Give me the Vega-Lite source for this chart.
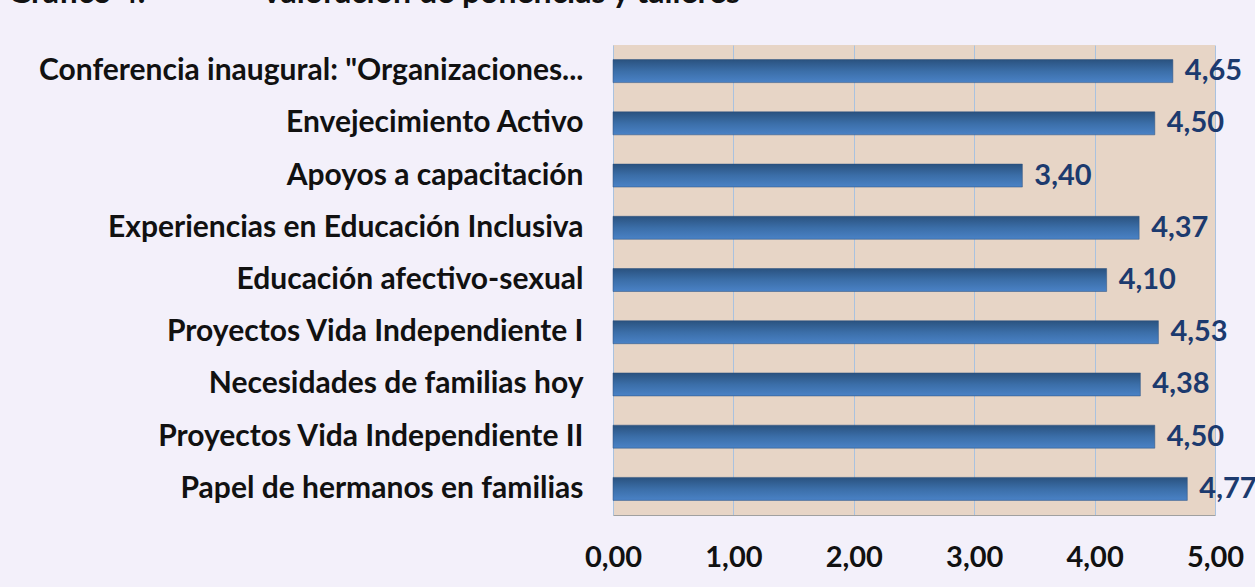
{
  "$schema": "https://vega.github.io/schema/vega-lite/v6.json",
  "width": 602,
  "height": 470,
  "autosize": {"type": "none"},
  "padding": {"left": 613, "top": 45, "right": 40, "bottom": 72},
  "background": "#f3f0fa",
  "config": {
    "locale": {"number": {"decimal": ",", "thousands": ".", "grouping": [3], "currency": ["", " €"]}},
    "view": {"fill": "#e7d5c6", "stroke": null},
    "font": "Lato"
  },
  "title": {
    "text": "Gráfico 4.\u00a0\u00a0\u00a0\u00a0\u00a0\u00a0\u00a0\u00a0\u00a0\u00a0\u00a0\u00a0\u00a0\u00a0\u00a0Valoración de ponencias y talleres",
    "anchor": "start",
    "frame": "group",
    "font": "Lato",
    "fontSize": 32,
    "fontWeight": "bold",
    "color": "#111111",
    "dx": -605,
    "dy": 20,
    "offset": 30,
    "baseline": "alphabetic"
  },
  "data": {
    "values": [
      {"tema": "Conferencia inaugural: \"Organizaciones...", "valor": 4.65, "orden": 1},
      {"tema": "Envejecimiento Activo", "valor": 4.50, "orden": 2},
      {"tema": "Apoyos a capacitación", "valor": 3.40, "orden": 3},
      {"tema": "Experiencias en Educación Inclusiva", "valor": 4.37, "orden": 4},
      {"tema": "Educación afectivo-sexual", "valor": 4.10, "orden": 5},
      {"tema": "Proyectos Vida Independiente I", "valor": 4.53, "orden": 6},
      {"tema": "Necesidades de familias hoy", "valor": 4.38, "orden": 7},
      {"tema": "Proyectos Vida Independiente II", "valor": 4.50, "orden": 8},
      {"tema": "Papel de hermanos en familias", "valor": 4.77, "orden": 9}
    ]
  },
  "encoding": {
    "y": {
      "field": "tema",
      "type": "nominal",
      "sort": {"field": "orden", "order": "ascending"},
      "scale": {"paddingInner": 0.56, "paddingOuter": 0.28},
      "axis": {
        "title": null,
        "domain": false,
        "ticks": false,
        "labelPadding": 30,
        "labelFont": "Lato",
        "labelFontSize": 30,
        "labelFontWeight": "bold",
        "labelColor": "#111111",
        "labelLimit": 700
      }
    },
    "x": {
      "field": "valor",
      "type": "quantitative",
      "scale": {"domain": [0, 5], "nice": false},
      "axis": {
        "title": null,
        "values": [0, 1, 2, 3, 4, 5],
        "format": ".2f",
        "grid": true,
        "gridColor": "#a9c2df",
        "gridWidth": 1,
        "domain": true,
        "domainColor": "#a0a0a0",
        "ticks": false,
        "labelPadding": 28,
        "labelFont": "Lato",
        "labelFontSize": 29,
        "labelFontWeight": "bold",
        "labelColor": "#111111",
        "labelFlush": false
      }
    }
  },
  "layer": [
    {
      "mark": {
        "type": "bar",
        "color": {
          "gradient": "linear",
          "x1": 0, "y1": 0, "x2": 0, "y2": 1,
          "stops": [
            {"offset": 0, "color": "#2a527f"},
            {"offset": 0.5, "color": "#3b6ea8"},
            {"offset": 1, "color": "#4a82c6"}
          ]
        },
        "stroke": "#2a4f7c",
        "strokeWidth": 0.5
      }
    },
    {
      "mark": {
        "type": "text",
        "align": "left",
        "baseline": "middle",
        "dx": 12,
        "font": "Lato",
        "fontSize": 29,
        "fontWeight": "bold",
        "color": "#1c3a6e"
      },
      "encoding": {
        "text": {"field": "valor", "type": "quantitative", "format": ".2f"}
      }
    }
  ]
}
